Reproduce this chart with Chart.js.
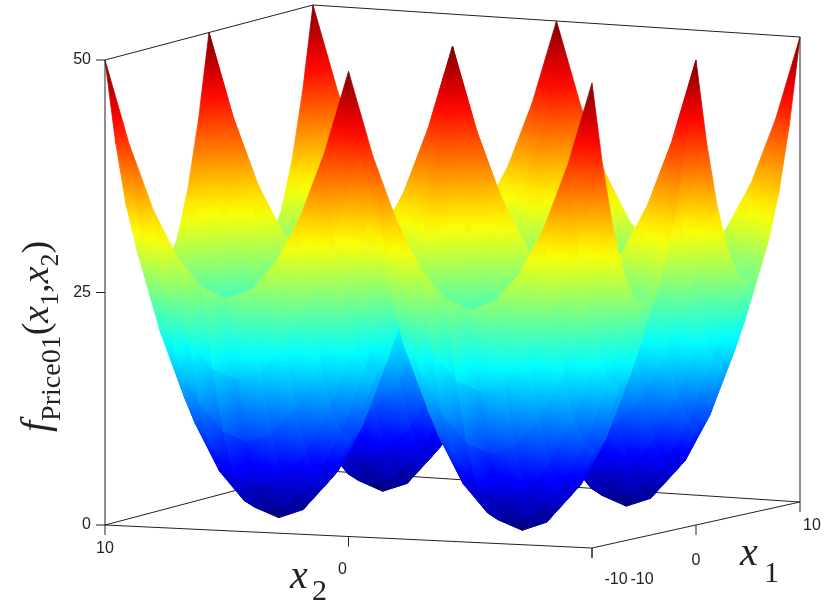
<!DOCTYPE html>
<html><head><meta charset="utf-8">
<script src="https://cdn.jsdelivr.net/npm/chart.js@4.4.0/dist/chart.umd.min.js"></script>
<style>html,body{margin:0;padding:0;background:#fff}#w{width:825px;height:606px}</style>
</head><body><div id="w"><canvas id="c"></canvas></div>
<script>
const x1Values = [-10,-9,-8,-7,-6,-5,-4,-3,-2,-1,0,1,2,3,4,5,6,7,8,9,10];
const x2Values = [-10,-9,-8,-7,-6,-5,-4,-3,-2,-1,0,1,2,3,4,5,6,7,8,9,10];
// rows: x2 index, columns: x1 index
const zGrid = [
[50,41,34,29,26,25,26,29,34,41,50,41,34,29,26,25,26,29,34,41,50],
[41,32,25,20,17,16,17,20,25,32,41,32,25,20,17,16,17,20,25,32,41],
[34,25,18,13,10,9,10,13,18,25,34,25,18,13,10,9,10,13,18,25,34],
[29,20,13,8,5,4,5,8,13,20,29,20,13,8,5,4,5,8,13,20,29],
[26,17,10,5,2,1,2,5,10,17,26,17,10,5,2,1,2,5,10,17,26],
[25,16,9,4,1,0,1,4,9,16,25,16,9,4,1,0,1,4,9,16,25],
[26,17,10,5,2,1,2,5,10,17,26,17,10,5,2,1,2,5,10,17,26],
[29,20,13,8,5,4,5,8,13,20,29,20,13,8,5,4,5,8,13,20,29],
[34,25,18,13,10,9,10,13,18,25,34,25,18,13,10,9,10,13,18,25,34],
[41,32,25,20,17,16,17,20,25,32,41,32,25,20,17,16,17,20,25,32,41],
[50,41,34,29,26,25,26,29,34,41,50,41,34,29,26,25,26,29,34,41,50],
[41,32,25,20,17,16,17,20,25,32,41,32,25,20,17,16,17,20,25,32,41],
[34,25,18,13,10,9,10,13,18,25,34,25,18,13,10,9,10,13,18,25,34],
[29,20,13,8,5,4,5,8,13,20,29,20,13,8,5,4,5,8,13,20,29],
[26,17,10,5,2,1,2,5,10,17,26,17,10,5,2,1,2,5,10,17,26],
[25,16,9,4,1,0,1,4,9,16,25,16,9,4,1,0,1,4,9,16,25],
[26,17,10,5,2,1,2,5,10,17,26,17,10,5,2,1,2,5,10,17,26],
[29,20,13,8,5,4,5,8,13,20,29,20,13,8,5,4,5,8,13,20,29],
[34,25,18,13,10,9,10,13,18,25,34,25,18,13,10,9,10,13,18,25,34],
[41,32,25,20,17,16,17,20,25,32,41,32,25,20,17,16,17,20,25,32,41],
[50,41,34,29,26,25,26,29,34,41,50,41,34,29,26,25,26,29,34,41,50]
];
const zTicks = [0,25,50];
const x1Ticks = [-10,0,10];
const x2Ticks = [-10,0,10];

const FA=[105,525], FB=[592,548], FC=[800,502], FD=[313,470], ZH=465;
function proj(x1,x2,z){
  const u=(x1+10)/20, v=(10-x2)/20;
  const px=FA[0]*(1-u)*(1-v)+FB[0]*(1-u)*v+FC[0]*u*v+FD[0]*u*(1-v);
  const py=FA[1]*(1-u)*(1-v)+FB[1]*(1-u)*v+FC[1]*u*v+FD[1]*u*(1-v);
  return [px, py - z/50*ZH];
}
function jet(t){
  const c=x=>Math.round(255*Math.max(0,Math.min(1,x)));
  return `rgb(${c(1.5-Math.abs(4*t-3))},${c(1.5-Math.abs(4*t-2))},${c(1.5-Math.abs(4*t-1))})`;
}
const surf={id:'surf',afterDatasetsDraw(chart){
  const ctx=chart.ctx, sx=chart.scales.x, sy=chart.scales.y;
  const P=(x1,x2,z)=>{const p=proj(x1,x2,z);return [sx.getPixelForValue(p[0]),sy.getPixelForValue(p[1])];};
  ctx.save();
  const line=(a,b)=>{ctx.beginPath();ctx.moveTo(a[0],a[1]);ctx.lineTo(b[0],b[1]);ctx.stroke();};
  ctx.strokeStyle='#222';ctx.lineWidth=1;
  line(P(-10,10,0),P(10,10,0)); line(P(10,10,0),P(10,-10,0));
  line(P(-10,10,50),P(10,10,50)); line(P(10,10,50),P(10,-10,50));
  line(P(10,10,0),P(10,10,50));
  const cells=[];
  for(let i=0;i<x2Values.length-1;i++)for(let j=0;j<x1Values.length-1;j++){
    const c=proj((x1Values[j]+x1Values[j+1])/2,(x2Values[i]+x2Values[i+1])/2,0);
    cells.push([c[1],i,j]);
  }
  cells.sort((a,b)=>a[0]-b[0]);
  for(const [d,i,j] of cells){
    const vs=[[j,i],[j+1,i],[j+1,i+1],[j,i+1]].map(([jj,ii])=>({z:zGrid[ii][jj],p:P(x1Values[jj],x2Values[ii],zGrid[ii][jj])}));
    let lo=vs[0],hi=vs[0];
    for(const v of vs){if(v.z<lo.z)lo=v;if(v.z>hi.z)hi=v;}
    let fill;
    if(hi.z-lo.z<1e-6||Math.abs(hi.p[1]-lo.p[1])<0.5){fill=jet(hi.z/50);}
    else{
      fill=ctx.createLinearGradient(lo.p[0],lo.p[1],hi.p[0],hi.p[1]);
      const n=8;
      for(let k=0;k<=n;k++){fill.addColorStop(k/n,jet((lo.z+(hi.z-lo.z)*k/n)/50));}
    }
    ctx.fillStyle=fill;ctx.strokeStyle=fill;ctx.lineWidth=0.8;
    ctx.beginPath();ctx.moveTo(vs[0].p[0],vs[0].p[1]);for(let k=1;k<4;k++)ctx.lineTo(vs[k].p[0],vs[k].p[1]);ctx.closePath();
    ctx.fill();ctx.stroke();
  }
  ctx.strokeStyle='#222';ctx.lineWidth=1;
  line(P(-10,10,0),P(-10,-10,0)); line(P(-10,-10,0),P(10,-10,0));
  line(P(-10,10,0),P(-10,10,50));
  line(P(10,-10,0),P(10,-10,50));
  ctx.fillStyle='#222';ctx.font='16px "Liberation Sans", Arial';
  for(const z of zTicks){const p=P(-10,10,z);line([p[0]-9,p[1]],p);ctx.textAlign='right';ctx.textBaseline='middle';ctx.fillText(String(z),p[0]-14,p[1]);}
  for(const t of x2Ticks){const p=P(-10,t,0);line(p,[p[0],p[1]+10]);ctx.textAlign='center';ctx.textBaseline='top';
    ctx.fillText(String(t),p[0]+(t===-10?24:(t===0?-6:0)),p[1]+(t===0?25:(t===-10?24:16)));}
  for(const t of x1Ticks){const p=P(t,-10,0);line(p,[p[0],p[1]+10]);ctx.textAlign='center';ctx.textBaseline='top';
    ctx.fillText(String(t),p[0]+(t===-10?50:(t===10?12:0)),p[1]+(t===-10?24:16)+(t===0?12:0));}
  const serif='"Liberation Serif","Times New Roman",serif';
  ctx.textAlign='left';ctx.textBaseline='alphabetic';
  ctx.font='italic 40px '+serif;ctx.fillText('x',290,588);
  ctx.font='30px '+serif;ctx.fillText('2',312,600);
  ctx.font='italic 40px '+serif;ctx.fillText('x',740,565);
  ctx.font='30px '+serif;ctx.fillText('1',764,582);
  ctx.translate(48,432);ctx.rotate(-Math.PI/2);
  let x=0;
  const put=(s,f,dy)=>{ctx.font=f;ctx.fillText(s,x,dy);x+=ctx.measureText(s).width;};
  put('f','italic 40px '+serif,0);
  put('Price01','28px '+serif,12);
  put('(','38px '+serif,0);
  put('x','italic 38px '+serif,0);
  put('1','26px '+serif,10);
  put(',','38px '+serif,0);
  put('x','italic 38px '+serif,0);
  put('2','26px '+serif,10);
  put(')','38px '+serif,0);
  ctx.restore();
}};
new Chart(document.getElementById('c'),{
  type:'scatter',
  data:{datasets:[{data:[],pointRadius:0}]},
  options:{responsive:true,maintainAspectRatio:false,animation:false,
    layout:{padding:0},
    plugins:{legend:{display:false},tooltip:{enabled:false}},
    scales:{x:{type:'linear',min:0,max:825,display:false},
            y:{type:'linear',min:0,max:606,reverse:true,display:false}}},
  plugins:[surf]
});
</script></body></html>
